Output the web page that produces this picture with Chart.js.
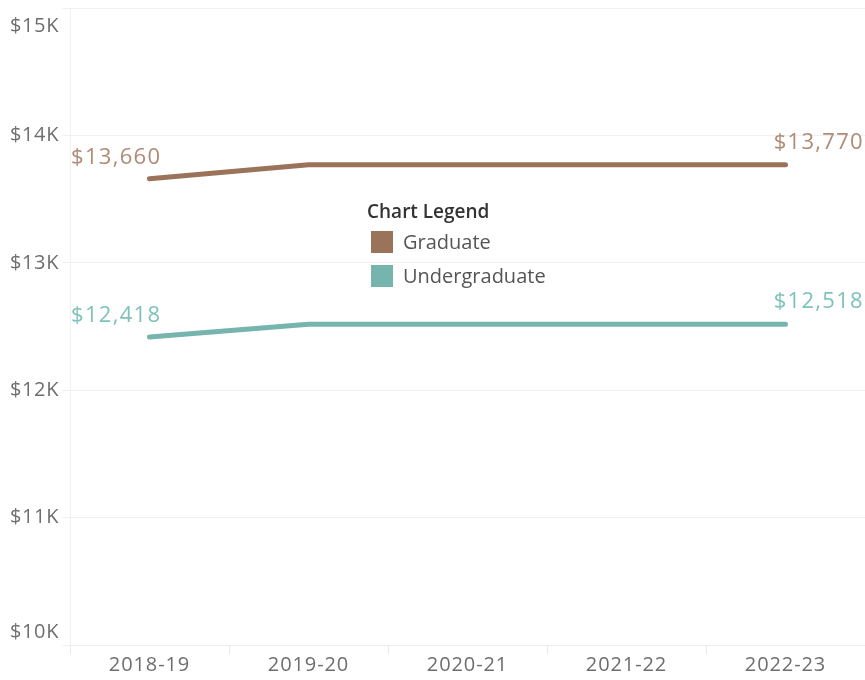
<!DOCTYPE html>
<html lang="en">
<head>
  <meta charset="UTF-8">
  <title>Tuition Chart</title>
  <script src="https://cdn.jsdelivr.net/npm/chart.js"></script>
  <style>
    body { margin: 0; background: #fff; }
    #wrap { width: 865px; height: 680px; }
  </style>
</head>
<body>
  <div id="wrap"><canvas id="grafico" width="865" height="680"></canvas></div>

  <script>
    const anos = ['2018-19', '2019-20', '2020-21', '2021-22', '2022-23'];
    const graduate = [13660, 13770, 13770, 13770, 13770];
    const undergraduate = [12418, 12518, 12518, 12518, 12518];
    const yTicks = [10000, 11000, 12000, 13000, 14000, 15000];

    const FONT = '"Open Sans", "Noto Sans", sans-serif';
    const fmtK = v => '$' + (v / 1000) + 'K';
    const fmtMoney = v => '$' + v.toLocaleString('en-US');

    // labels on the first and last point only
    const rotulos = {
      id: 'rotulos',
      afterDatasetsDraw(chart) {
        const ctx = chart.ctx;
        const area = chart.chartArea;
        ctx.save();
        ctx.font = '22px ' + FONT;
        ctx.letterSpacing = '1.3px';
        ctx.textBaseline = 'middle';
        chart.data.datasets.forEach((ds, i) => {
          const pts = chart.getDatasetMeta(i).data;
          const first = pts[0], last = pts[pts.length - 1];
          ctx.fillStyle = ds.labelColor;
          ctx.textAlign = 'left';
          ctx.fillText(fmtMoney(ds.data[0]), area.left + 1, first.y - 21);
          ctx.textAlign = 'right';
          ctx.fillText(fmtMoney(ds.data[ds.data.length - 1]), area.right - 1, last.y - 22);
        });
        ctx.restore();
      }
    };

    // y labels, pushed inside at the ends like the original
    const eixoY = {
      id: 'eixoY',
      afterDraw(chart) {
        const ctx = chart.ctx;
        const y = chart.scales.y;
        ctx.save();
        ctx.font = '20px ' + FONT;
        ctx.letterSpacing = '0.6px';
        ctx.fillStyle = '#6e6e6e';
        ctx.textAlign = 'right';
        ctx.textBaseline = 'middle';
        yTicks.forEach(v => {
          let py = y.getPixelForValue(v);
          py = Math.max(py, y.top + 18);
          py = Math.min(py, y.bottom - 13);
          ctx.fillText(fmtK(v), 59, py);
        });
        ctx.restore();
      }
    };

    const legenda = {
      id: 'legenda',
      afterDraw(chart) {
        const ctx = chart.ctx;
        ctx.save();
        ctx.textBaseline = 'middle';
        ctx.textAlign = 'left';
        ctx.font = '600 19px ' + FONT;
        ctx.fillStyle = '#333';
        ctx.fillText('Chart Legend', 367, 213);
        ctx.font = '20px ' + FONT;
        chart.data.datasets.forEach((ds, i) => {
          const top = 231 + i * 34;
          ctx.fillStyle = ds.borderColor;
          ctx.fillRect(371, top, 22, 22);
          ctx.fillStyle = '#555';
          ctx.fillText(ds.label, 403, top + 12);
        });
        ctx.restore();
      }
    };

    // x labels drawn by hand for the wider spacing
    const eixoX = {
      id: 'eixoX',
      afterDraw(chart) {
        const ctx = chart.ctx;
        const x = chart.scales.x;
        ctx.save();
        ctx.font = '20px ' + FONT;
        ctx.letterSpacing = '0.9px';
        ctx.fillStyle = '#6e6e6e';
        ctx.textAlign = 'center';
        ctx.textBaseline = 'middle';
        anos.forEach((a, i) => ctx.fillText(a, x.getPixelForValue(i), 665));
        ctx.restore();
      }
    };

    const ctx = document.getElementById('grafico').getContext('2d');
    const chart = new Chart(ctx, {
      type: 'line',
      data: {
        labels: anos,
        datasets: [
          {
            label: 'Graduate',
            data: graduate,
            borderColor: '#9b735b',
            labelColor: '#ae8b76',
            borderWidth: 5,
            borderCapStyle: 'round',
            borderJoinStyle: 'round',
            pointRadius: 0,
            tension: 0
          },
          {
            label: 'Undergraduate',
            data: undergraduate,
            borderColor: '#75b5ae',
            labelColor: '#7fc2bb',
            borderWidth: 5,
            borderCapStyle: 'round',
            borderJoinStyle: 'round',
            pointRadius: 0,
            tension: 0
          }
        ]
      },
      options: {
        responsive: false,
        animation: false,
        layout: { padding: { top: 8, right: 0, left: 0, bottom: 0 } },
        plugins: {
          legend: { display: false },
          tooltip: { enabled: false }
        },
        scales: {
          x: {
            offset: true,
            grid: {
              offset: true,
              drawOnChartArea: false,
              drawTicks: true,
              tickLength: 9,
              color: '#e8e8e8'
            },
            border: { color: '#ececec' },
            ticks: { display: false },
            afterFit(s) { s.height = 35; }
          },
          y: {
            min: 10000,
            max: 15000,
            afterBuildTicks(s) { s.ticks = yTicks.map(v => ({ value: v })); },
            grid: { color: '#f0f0f0', tickLength: 8 },
            border: { color: '#efefef' },
            ticks: { display: false },
            afterFit(s) { s.width = 70; }
          }
        }
      },
      plugins: [rotulos, eixoY, eixoX, legenda]
    });
  </script>
</body>
</html>
